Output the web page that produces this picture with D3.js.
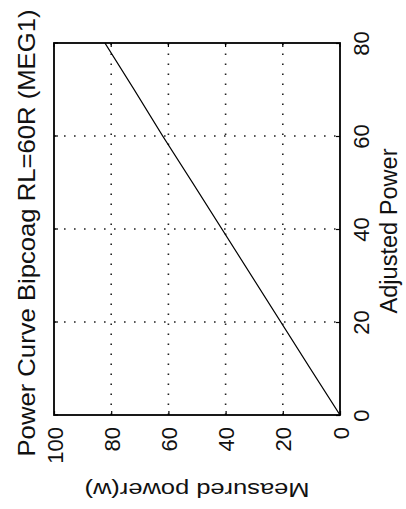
<!DOCTYPE html>
<html>
<head>
<meta charset="utf-8">
<script src="https://cdn.jsdelivr.net/npm/d3@7"></script>
<style>
  html, body { margin: 0; padding: 0; background: #fff; }
  svg { display: block; }
  text { font-family: "Liberation Sans", Arial, Helvetica, sans-serif; fill: #111; }
</style>
</head>
<body>
<svg id="chart" width="406" height="509"></svg>
<script>
// ---- data ----
const titleText = "Power Curve Bipcoag RL=60R  (MEG1)";
const xLabelText = "Adjusted Power";
const yLabelText = "Measured power(w)";
const adjustedPower = [0, 10, 20, 30, 40, 50, 60, 70, 80];
const measuredPower = [0, 10.4, 20.7, 31.0, 41.3, 51.6, 62.0, 72.0, 82.2];
const adjustedTicks = [0, 20, 40, 60, 80];
const measuredTicks = [0, 20, 40, 60, 80, 100];

// ---- layout (figure is rotated 90° CCW on the page) ----
const svg = d3.select("#chart");
svg.append("rect").attr("width", 406).attr("height", 509).attr("fill", "#fff");

const plot = { left: 54, right: 340, top: 43, bottom: 415 };
// measured power runs along page x (0 at right), adjusted power along page y (0 at bottom)
const mScale = d3.scaleLinear().domain([0, 100]).range([plot.right, plot.left]);
const aScale = d3.scaleLinear().domain([0, 80]).range([plot.bottom, plot.top]);

// grid
const grid = svg.append("g").attr("stroke", "#222").attr("stroke-width", 1.6)
  .attr("stroke-dasharray", "1.6,8.4");
grid.selectAll("line.gm").data(measuredTicks.filter(d => d > 0 && d < 100)).join("line")
  .attr("class", "gm")
  .attr("x1", d => mScale(d)).attr("x2", d => mScale(d))
  .attr("y1", plot.bottom).attr("y2", plot.top);
grid.selectAll("line.ga").data(adjustedTicks.filter(d => d > 0 && d < 80)).join("line")
  .attr("class", "ga")
  .attr("y1", d => aScale(d)).attr("y2", d => aScale(d))
  .attr("x1", plot.left).attr("x2", plot.right);

// axes
const bottomAxis = svg.append("g")
  .attr("transform", `translate(0,${plot.bottom})`)
  .call(d3.axisBottom(mScale).tickValues(measuredTicks).tickSizeInner(-4).tickSizeOuter(0).tickFormat(d3.format("d")));
bottomAxis.select(".domain").remove();
bottomAxis.selectAll(".tick line").attr("stroke", "#000").attr("stroke-width", 1.2);
bottomAxis.selectAll(".tick text")
  .attr("transform", "rotate(-90)")
  .attr("x", -12).attr("y", 8).attr("dy", 0)
  .attr("text-anchor", "end")
  .style("font-size", "22px");

const rightAxis = svg.append("g")
  .attr("transform", `translate(${plot.right},0)`)
  .call(d3.axisRight(aScale).tickValues(adjustedTicks).tickSizeInner(-4).tickSizeOuter(0).tickFormat(d3.format("d")));
rightAxis.select(".domain").remove();
rightAxis.selectAll(".tick line").attr("stroke", "#000").attr("stroke-width", 1.2);
rightAxis.selectAll(".tick text")
  .attr("transform", "rotate(-90)")
  .attr("x", 0).attr("y", 29).attr("dy", 0)
  .attr("text-anchor", "middle")
  .style("font-size", "22px");

// opposite-side ticks (box)
const opp = svg.append("g").attr("stroke", "#000").attr("stroke-width", 1.2);
opp.selectAll("line.tt").data(measuredTicks).join("line")
  .attr("x1", d => mScale(d)).attr("x2", d => mScale(d))
  .attr("y1", plot.top).attr("y2", plot.top + 4);
opp.selectAll("line.tl").data(adjustedTicks).join("line")
  .attr("y1", d => aScale(d)).attr("y2", d => aScale(d))
  .attr("x1", plot.left).attr("x2", plot.left + 4);

// frame
svg.append("rect")
  .attr("x", plot.left).attr("y", plot.top)
  .attr("width", plot.right - plot.left).attr("height", plot.bottom - plot.top)
  .attr("fill", "none").attr("stroke", "#000").attr("stroke-width", 1.8);

// curve
const pts = adjustedPower.map((a, i) => [a, measuredPower[i]]);
const line = d3.line().x(d => mScale(d[1])).y(d => aScale(d[0]));
svg.append("path").datum(pts)
  .attr("d", line)
  .attr("fill", "none").attr("stroke", "#000").attr("stroke-width", 1.3);

// labels
svg.append("text")
  .attr("transform", "translate(35,233) rotate(-90)")
  .attr("text-anchor", "middle")
  .attr("textLength", 447).attr("lengthAdjust", "spacingAndGlyphs")
  .style("font-size", "24px")
  .text(titleText);

svg.append("text")
  .attr("transform", "translate(397,231) rotate(-90)")
  .attr("text-anchor", "middle")
  .attr("textLength", 165).attr("lengthAdjust", "spacingAndGlyphs")
  .style("font-size", "23px")
  .text(xLabelText);

svg.append("text")
  .attr("transform", "translate(197,483) rotate(180)")
  .attr("text-anchor", "middle")
  .attr("textLength", 225).attr("lengthAdjust", "spacingAndGlyphs")
  .style("font-size", "21px")
  .text(yLabelText);
</script>
</body>
</html>
